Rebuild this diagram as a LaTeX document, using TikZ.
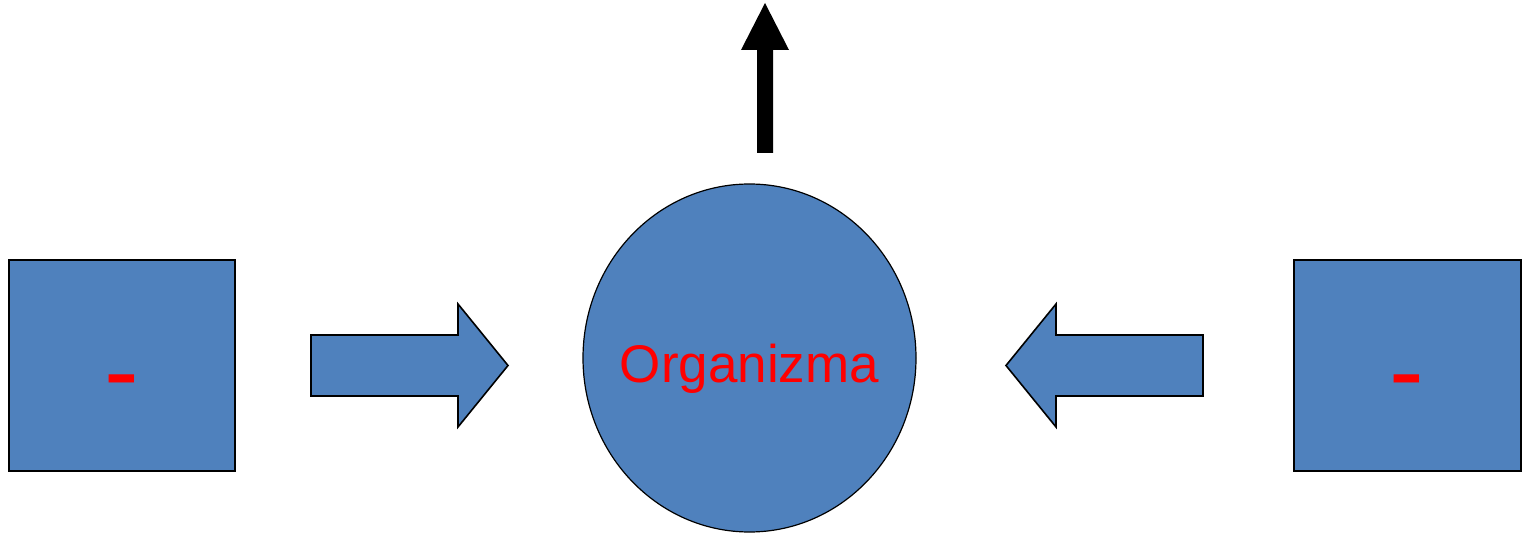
\documentclass[tikz,border=0pt]{standalone}
\usepackage{fontspec}
\setmainfont{Liberation Sans}
\usetikzlibrary{shapes.geometric}
\definecolor{boxblue}{HTML}{4F81BD}
\definecolor{txtred}{HTML}{FF0000}
\tikzset{
  bluebox/.style={draw=black, fill=boxblue, line width=1.6pt},
  blockarrow/.style={draw=black, fill=boxblue, line width=1.6pt, line join=miter},
  minus/.style={text=txtred, font=\fontsize{104}{110}\selectfont, inner sep=0pt, anchor=base},
}
\begin{document}
\begin{tikzpicture}[x=1pt,y=-1pt]
\useasboundingbox (0,0) rectangle (1524,534);
% squares
\node[bluebox, minimum width=226pt, minimum height=211pt, inner sep=0pt] (lsq) at (122,365.5) {};
\node[bluebox, minimum width=227pt, minimum height=211pt, inner sep=0pt] (rsq) at (1407.5,365.5) {};
\node[minus] (lm) at (122,407) {-};
\node[minus] (rm) at (1407,407) {-};
% circle
\node[draw=black, fill=boxblue, line width=1.2pt, ellipse, minimum width=333pt, minimum height=348pt, inner sep=0pt] (org) at (749.5,358) {};
\node[text=txtred, font=\fontsize{53}{60}\selectfont, anchor=base, inner sep=0pt] (orgtxt) at (749.5,383) {Organizma};
% right arrow
\draw[blockarrow] (311,335) -- (458,335) -- (458,304) -- (508,365.5) -- (458,427) -- (458,396) -- (311,396) -- cycle;
% left arrow
\draw[blockarrow] (1203,335) -- (1056,335) -- (1056,304) -- (1006,365.5) -- (1056,427) -- (1056,396) -- (1203,396) -- cycle;
% black up arrow
\fill[black] (757,153) -- (773,153) -- (773,50) -- (789,50) -- (765,3) -- (741,50) -- (757,50) -- cycle;
\end{tikzpicture}
\end{document}
